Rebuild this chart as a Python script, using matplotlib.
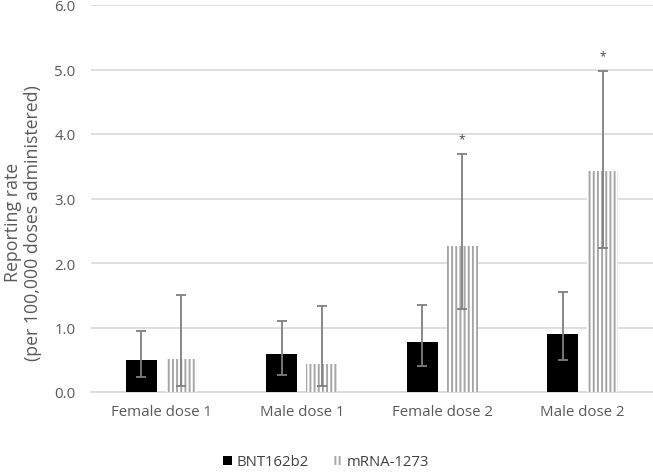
import matplotlib
matplotlib.use("Agg")
import matplotlib.pyplot as plt
import numpy as np

categories = ["Female dose 1", "Male dose 1", "Female dose 2", "Male dose 2"]
bnt_values = [0.50, 0.59, 0.77, 0.90]
bnt_low = [0.23, 0.27, 0.40, 0.49]
bnt_high = [0.95, 1.10, 1.35, 1.55]
mrna_values = [0.51, 0.44, 2.27, 3.42]
mrna_low = [0.10, 0.09, 1.29, 2.24]
mrna_high = [1.51, 1.33, 3.69, 4.98]
significant = [False, False, True, True]
series_names = ["BNT162b2", "mRNA-1273"]
yticks = [0.0, 1.0, 2.0, 3.0, 4.0, 5.0, 6.0]

plt.rcParams['font.family'] = ['Open Sans', 'DejaVu Sans']
plt.rcParams['hatch.linewidth'] = 1.4

fig = plt.figure(figsize=(6.53, 4.77), dpi=100)
ax = fig.add_axes([91/653, 1 - 393/477, (653-91)/653, (393-6)/477])

x = np.arange(len(categories))
w = 0.22
off = 0.142
grey = '#7f7f7f'
stripe = '#a6a6a6'

bv = np.array(bnt_values); mv = np.array(mrna_values)
bnt_err = [bv - np.array(bnt_low), np.array(bnt_high) - bv]
mrna_err = [mv - np.array(mrna_low), np.array(mrna_high) - mv]

ax.bar(x - off, bv, w, color='black', zorder=3, label=series_names[0])
ax.bar(x + off, mv, w, color='white', edgecolor=stripe, hatch='||||', linewidth=0,
       zorder=3, label=series_names[1])
ax.errorbar(x - off, bv, yerr=bnt_err, fmt='none', ecolor=grey, elinewidth=1.3,
            capsize=3.5, capthick=1.3, zorder=4)
ax.errorbar(x + off, mv, yerr=mrna_err, fmt='none', ecolor=grey, elinewidth=1.3,
            capsize=3.5, capthick=1.3, zorder=4)
for i, s in enumerate(significant):
    if s:
        ax.text(x[i] + off, mrna_high[i] + 0.13, '*', ha='center', va='bottom',
                fontsize=8.5, color='#404040')

ax.set_xlim(-0.5, len(categories) - 0.5)
ax.set_ylim(0, 6.0)
ax.set_yticks(yticks)
ax.set_yticklabels([f"{v:.1f}" for v in yticks], fontsize=10.8, color='#595959')
ax.set_xticks(x)
ax.set_xticklabels(categories, fontsize=10.8, color='#595959')
ax.tick_params(axis='y', length=0, pad=11)
ax.tick_params(axis='x', length=0, pad=9)
ax.grid(axis='y', color='#d9d9d9', linewidth=1.2, zorder=0)
ax.set_axisbelow(True)
for sp in ['top', 'right', 'left']:
    ax.spines[sp].set_visible(False)
ax.spines['bottom'].set_color('#d9d9d9')
ax.spines['bottom'].set_linewidth(1.2)
ax.spines['bottom'].set_zorder(1)

ax.set_ylabel("Reporting rate\n(per 100,000 doses administered)", fontsize=12.8,
              color='#595959', linespacing=1.1)
ax.yaxis.set_label_coords(-0.088, 0.44)

leg = fig.legend(loc='center', bbox_to_anchor=(326/653, 1 - 463/477), ncol=2,
                 frameon=False, fontsize=10.7, handlelength=0.6, handleheight=0.6,
                 columnspacing=1.6, handletextpad=0.3)
for t in leg.get_texts():
    t.set_color('#404040')

fig.savefig("out.png", dpi=100)
